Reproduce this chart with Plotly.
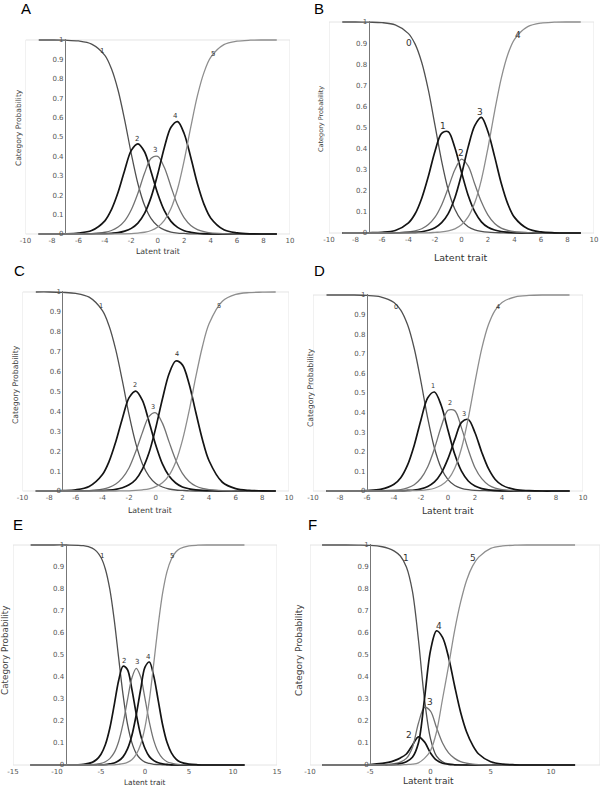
import plotly.graph_objects as go

W, H = 600, 788

# ---- data (category probability vs latent trait) ----
X_GRID = [-9, -8, -7, -6, -5, -4, -3.5, -3, -2.5, -2, -1.5, -1, -0.5, 0,
          0.5, 1, 1.5, 2, 2.5, 3, 3.5, 4, 5, 6, 7, 8, 9]
X_E = [-13, -11, -9, -7, -6, -5.5, -5, -4.5, -4, -3.5, -3, -2.5, -2, -1.5, -1,
       -0.5, 0, 0.5, 1, 1.5, 2, 2.5, 3, 3.5, 4, 5, 6, 7, 9, 11.3]
X_F = [-9, -7, -6, -5, -4, -3.5, -3, -2.5, -2, -1.5, -1, -0.5, 0, 0.5, 1,
       1.5, 2, 2.5, 3, 3.5, 4, 5, 6, 7, 8, 10, 12]

A_CAT1 = [1.000, 1.000, 0.999, 0.995, 0.979, 0.921, 0.852, 0.741, 0.587, 0.413, 0.259, 0.148, 0.079, 0.041,
          0.021, 0.010, 0.005, 0.003, 0.001, 0.001, 0, 0, 0, 0, 0, 0, 0]
A_CAT2 = [0, 0, 0.001, 0.005, 0.018, 0.068, 0.126, 0.215, 0.329, 0.431, 0.465, 0.424, 0.320, 0.207,
          0.120, 0.065, 0.034, 0.017, 0.009, 0.004, 0.002, 0.001, 0, 0, 0, 0, 0]
A_CAT3 = [0, 0, 0, 0.001, 0.002, 0.009, 0.018, 0.036, 0.068, 0.125, 0.210, 0.313, 0.390, 0.400,
          0.343, 0.244, 0.149, 0.083, 0.044, 0.023, 0.012, 0.006, 0.002, 0, 0, 0, 0]
A_CAT4 = [0, 0, 0, 0, 0.001, 0.002, 0.004, 0.007, 0.015, 0.029, 0.056, 0.106, 0.190, 0.309,
          0.446, 0.550, 0.579, 0.517, 0.394, 0.259, 0.153, 0.083, 0.022, 0.006, 0.001, 0, 0]
A_CAT5 = [0, 0, 0, 0, 0, 0, 0, 0.001, 0.001, 0.002, 0.005, 0.009, 0.018, 0.036,
          0.070, 0.131, 0.233, 0.380, 0.552, 0.713, 0.833, 0.910, 0.976, 0.994, 0.999, 1.000, 1.000]

B_CAT0 = [1.000, 1.000, 0.999, 0.997, 0.986, 0.945, 0.895, 0.808, 0.677, 0.510, 0.341, 0.204, 0.113, 0.060,
          0.030, 0.015, 0.008, 0.004, 0.002, 0.001, 0, 0, 0, 0, 0, 0, 0]
B_CAT1 = [0, 0, 0.001, 0.003, 0.012, 0.048, 0.091, 0.165, 0.269, 0.388, 0.472, 0.480, 0.404, 0.288,
          0.179, 0.101, 0.053, 0.027, 0.014, 0.007, 0.004, 0.002, 0, 0, 0, 0, 0]
B_CAT2 = [0, 0, 0, 0, 0.001, 0.005, 0.010, 0.020, 0.040, 0.075, 0.133, 0.214, 0.300, 0.350,
          0.318, 0.232, 0.148, 0.085, 0.045, 0.023, 0.012, 0.006, 0.002, 0, 0, 0, 0]
B_CAT3 = [0, 0, 0, 0, 0, 0.002, 0.003, 0.006, 0.013, 0.025, 0.049, 0.092, 0.167, 0.277,
          0.407, 0.509, 0.548, 0.480, 0.362, 0.236, 0.137, 0.074, 0.020, 0.005, 0.001, 0, 0]
B_CAT4 = [0, 0, 0, 0, 0, 0, 0, 0.001, 0.001, 0.003, 0.005, 0.010, 0.020, 0.039,
          0.076, 0.143, 0.252, 0.404, 0.577, 0.733, 0.847, 0.918, 0.978, 0.995, 0.999, 1.000, 1.000]

C_CAT1 = [1.000, 1.000, 0.998, 0.993, 0.974, 0.906, 0.829, 0.709, 0.552, 0.382, 0.239, 0.136, 0.074, 0.038,
          0.020, 0.010, 0.005, 0.003, 0.001, 0, 0, 0, 0, 0, 0, 0, 0]
C_CAT2 = [0, 0, 0.002, 0.006, 0.023, 0.083, 0.149, 0.248, 0.366, 0.469, 0.502, 0.455, 0.347, 0.231,
          0.136, 0.075, 0.040, 0.020, 0.011, 0.006, 0.003, 0.002, 0, 0, 0, 0, 0]
C_CAT3 = [0, 0, 0, 0.001, 0.002, 0.009, 0.018, 0.035, 0.066, 0.117, 0.198, 0.294, 0.375, 0.393,
          0.341, 0.247, 0.156, 0.089, 0.048, 0.025, 0.013, 0.007, 0.002, 0.001, 0, 0, 0]
C_CAT4 = [0, 0, 0, 0, 0.001, 0.002, 0.004, 0.008, 0.016, 0.031, 0.058, 0.110, 0.193, 0.317,
          0.462, 0.589, 0.653, 0.634, 0.539, 0.397, 0.259, 0.152, 0.044, 0.012, 0.003, 0.001, 0]
C_CAT5 = [0, 0, 0, 0, 0, 0, 0, 0, 0.001, 0.001, 0.003, 0.006, 0.011, 0.022,
          0.042, 0.079, 0.146, 0.254, 0.401, 0.572, 0.725, 0.840, 0.954, 0.988, 0.997, 0.999, 1.000]

D_CAT0 = [1.000, 1.000, 1.000, 0.998, 0.991, 0.962, 0.923, 0.849, 0.727, 0.557, 0.371, 0.218, 0.116, 0.058,
          0.028, 0.014, 0.007, 0.003, 0.002, 0.001, 0, 0, 0, 0, 0, 0, 0]
D_CAT1 = [0, 0, 0, 0.002, 0.008, 0.034, 0.068, 0.132, 0.234, 0.364, 0.476, 0.505, 0.436, 0.310,
          0.187, 0.101, 0.051, 0.025, 0.012, 0.006, 0.003, 0.001, 0, 0, 0, 0, 0]
D_CAT2 = [0, 0, 0, 0, 0.001, 0.004, 0.007, 0.016, 0.032, 0.065, 0.124, 0.217, 0.329, 0.412,
          0.410, 0.322, 0.211, 0.119, 0.063, 0.031, 0.015, 0.007, 0.002, 0, 0, 0, 0]
D_CAT3 = [0, 0, 0, 0, 0, 0.001, 0.001, 0.003, 0.005, 0.011, 0.023, 0.046, 0.091, 0.165,
          0.262, 0.350, 0.365, 0.297, 0.198, 0.114, 0.059, 0.030, 0.007, 0.002, 0, 0, 0]
D_CAT4 = [0, 0, 0, 0, 0, 0, 0, 0.001, 0.002, 0.003, 0.007, 0.014, 0.029, 0.058,
          0.116, 0.218, 0.371, 0.556, 0.726, 0.849, 0.923, 0.962, 0.991, 0.998, 1.000, 1.000, 1.000]

E_CAT1 = [1, 1, 1.000, 0.997, 0.986, 0.971, 0.943, 0.890, 0.799, 0.661, 0.489, 0.321, 0.188, 0.103, 0.053,
          0.027, 0.013, 0.007, 0.003, 0.002, 0.001, 0, 0, 0, 0, 0, 0, 0, 0, 0]
E_CAT2 = [0, 0, 0, 0.003, 0.012, 0.025, 0.049, 0.093, 0.167, 0.272, 0.383, 0.449, 0.434, 0.346, 0.233,
          0.137, 0.075, 0.038, 0.020, 0.010, 0.005, 0.003, 0.001, 0, 0, 0, 0, 0, 0, 0]
E_CAT3 = [0, 0, 0, 0, 0.002, 0.004, 0.007, 0.015, 0.029, 0.056, 0.106, 0.187, 0.294, 0.394, 0.439,
          0.401, 0.302, 0.194, 0.111, 0.059, 0.030, 0.015, 0.008, 0.004, 0.002, 0.001, 0, 0, 0, 0]
E_CAT4 = [0, 0, 0, 0, 0, 0.001, 0.001, 0.002, 0.005, 0.009, 0.019, 0.037, 0.072, 0.133, 0.227,
          0.342, 0.445, 0.468, 0.403, 0.294, 0.183, 0.103, 0.055, 0.028, 0.014, 0.004, 0.001, 0, 0, 0]
E_CAT5 = [0, 0, 0, 0, 0, 0, 0, 0, 0.001, 0.001, 0.003, 0.006, 0.012, 0.024, 0.048,
          0.093, 0.172, 0.297, 0.463, 0.636, 0.781, 0.879, 0.936, 0.968, 0.984, 0.996, 0.999, 1, 1, 1]

F_CAT1 = [1, 1, 0.9995, 0.998, 0.992, 0.985, 0.972, 0.950, 0.900, 0.790, 0.570, 0.300, 0.120, 0.040,
          0.015, 0.005, 0.002, 0.001, 0, 0, 0, 0, 0, 0, 0, 0, 0]
F_CAT2 = [0, 0, 0.0005, 0.002, 0.007, 0.012, 0.020, 0.032, 0.050, 0.090, 0.128, 0.105, 0.055, 0.022,
          0.008, 0.003, 0.001, 0, 0, 0, 0, 0, 0, 0, 0, 0, 0]
F_CAT3 = [0, 0, 0, 0, 0.001, 0.003, 0.006, 0.013, 0.030, 0.080, 0.190, 0.262, 0.245, 0.170,
          0.100, 0.055, 0.030, 0.015, 0.008, 0.004, 0.002, 0, 0, 0, 0, 0, 0]
F_CAT4 = [0, 0, 0, 0, 0, 0, 0.002, 0.006, 0.015, 0.035, 0.100, 0.300, 0.520, 0.610,
          0.580, 0.490, 0.360, 0.240, 0.150, 0.090, 0.050, 0.015, 0.004, 0.001, 0, 0, 0]
F_CAT5 = [0, 0, 0, 0, 0, 0, 0, 0, 0.002, 0.004, 0.010, 0.030, 0.065, 0.150,
          0.300, 0.450, 0.610, 0.740, 0.840, 0.905, 0.945, 0.985, 0.996, 0.999, 1, 1, 1]

Y_TICKS = [0, 0.1, 0.2, 0.3, 0.4, 0.5, 0.6, 0.7, 0.8, 0.9, 1]
Y_TICK_TEXT = ["0", "0.1", "0.2", "0.3", "0.4", "0.5", "0.6", "0.7", "0.8", "0.9", "1"]
CATS_1_5 = ["1", "2", "3", "4", "5"]
CATS_0_4 = ["0", "1", "2", "3", "4"]

# ---- styling / layout per panel (pixel boxes measured on the 600x788 page) ----
CURVE_STYLE = [("#505050", 1.3), ("#141414", 1.7), ("#737373", 1.3), ("#141414", 1.7), ("#8e8e8e", 1.3)]
GRID_LINE = "#e4e4e4"
FONT = "DejaVu Sans"

PANELS = [
    dict(tag="A", x=X_GRID, curves=[A_CAT1, A_CAT2, A_CAT3, A_CAT4, A_CAT5], names=CATS_1_5,
         lab=[(-4.25, 0.945), (-1.54, 0.49), (-0.2, 0.434), (1.34, 0.61), (4.18, 0.928)], labsize=7,
         xr=(-10, 10), xt=list(range(-10, 11, 2)), box=(25.5, 290, 40, 234), yline=-7,
         letter=(26, 8), ytitle=(18, 128, 7.5), xtitle=(158, 252, 7.8)),
    dict(tag="B", x=X_GRID, curves=[B_CAT0, B_CAT1, B_CAT2, B_CAT3, B_CAT4], names=CATS_0_4,
         lab=[(-4.0, 0.899), (-1.37, 0.507), (-0.04, 0.38), (1.39, 0.575), (4.27, 0.938)], labsize=9,
         xr=(-10, 10), xt=list(range(-10, 11, 2)), box=(329, 594, 22, 233), yline=-7,
         letter=(319, 8), ytitle=(321, 119, 6.5), xtitle=(461, 257, 9.5)),
    dict(tag="C", x=X_GRID, curves=[C_CAT1, C_CAT2, C_CAT3, C_CAT4, C_CAT5], names=CATS_1_5,
         lab=[(-4.12, 0.93), (-1.55, 0.531), (-0.18, 0.422), (1.63, 0.69), (4.78, 0.93)], labsize=6.5,
         xr=(-10, 10), xt=list(range(-10, 11, 2)), box=(22.5, 289, 292, 491), yline=-7,
         letter=(19, 270), ytitle=(16, 385, 7.7), xtitle=(150, 510, 7.8)),
    dict(tag="D", x=X_GRID, curves=[D_CAT0, D_CAT1, D_CAT2, D_CAT3, D_CAT4], names=CATS_0_4,
         lab=[(-3.85, 0.939), (-1.14, 0.536), (0.17, 0.449), (1.16, 0.395), (3.68, 0.939)], labsize=6.5,
         xr=(-10, 10), xt=list(range(-10, 11, 2)), box=(313, 583, 295, 491), yline=-6,
         letter=(319, 270), ytitle=(310, 388, 7.7), xtitle=(448, 510, 9.2)),
    dict(tag="E", x=X_E, curves=[E_CAT1, E_CAT2, E_CAT3, E_CAT4, E_CAT5], names=CATS_1_5,
         lab=[(-4.92, 0.952), (-2.39, 0.474), (-0.95, 0.467), (0.38, 0.492), (3.1, 0.952)], labsize=7,
         xr=(-15, 15), xt=list(range(-15, 16, 5)), box=(13, 277, 545, 765), yline=-9,
         letter=(18, 524), ytitle=(5, 651, 8.8), xtitle=(145, 782, 7.4)),
    dict(tag="F", x=X_F, curves=[F_CAT1, F_CAT2, F_CAT3, F_CAT4, F_CAT5], names=CATS_1_5,
         lab=[(-2.05, 0.942), (-1.77, 0.136), (-0.06, 0.288), (0.72, 0.633), (3.57, 0.939)], labsize=9,
         xr=(-10, 14.07), xt=[-10, -5, 0, 5, 10], box=(310, 600, 545, 765), yline=-5,
         letter=(312, 524), ytitle=(299, 650, 9), xtitle=(428, 781, 9.0)),
]

PAD = 0.006  # a little headroom so the lines at 0 and 1 are not clipped

fig = go.Figure()
annotations = []
shapes = []
layout = {}

for i, p in enumerate(PANELS):
    n = "" if i == 0 else str(i + 1)
    xa, ya = "x" + n, "y" + n
    left, right, top, bottom = p["box"]
    x0, x1 = p["xr"]
    span = bottom - top
    dom_top = top - PAD * span
    dom_bot = bottom + PAD * span

    for ys, (col, wid) in zip(p["curves"], CURVE_STYLE):
        fig.add_trace(go.Scatter(
            x=p["x"], y=ys, xaxis=xa, yaxis=ya, mode="lines",
            line=dict(color=col, width=wid, shape="spline", smoothing=0.9),
            hoverinfo="skip", showlegend=False,
        ))

    ypos = (left + (p["yline"] - x0) / (x1 - x0) * (right - left)) / W
    layout["xaxis" + n] = dict(
        domain=[left / W, min(right / W, 1.0)], range=[x0, x1], anchor=ya, automargin=False,
        showgrid=False, zeroline=False, showline=False, ticks="",
        tickvals=p["xt"], ticktext=[str(v) for v in p["xt"]],
        tickfont=dict(family=FONT, size=7, color="#555555"),
    )
    layout["yaxis" + n] = dict(
        domain=[1 - dom_bot / H, 1 - dom_top / H], range=[-PAD, 1 + PAD],
        anchor="free", position=ypos, side="left", automargin=False,
        showgrid=False, zeroline=False, showline=True, linecolor="#777777", linewidth=1.4,
        ticks="", tickvals=Y_TICKS, ticktext=Y_TICK_TEXT,
        tickfont=dict(family=FONT, size=7, color="#555555"),
    )

    # light frame round the plotting area
    shapes.append(dict(type="rect", xref=xa, yref=ya, x0=x0, x1=x1, y0=0, y1=1,
                       line=dict(color=GRID_LINE, width=1), layer="below"))

    for name, (lx, ly) in zip(p["names"], p["lab"]):
        annotations.append(dict(x=lx, y=ly, xref=xa, yref=ya, text=name, showarrow=False,
                                font=dict(family=FONT, size=p["labsize"], color="#333333")))

    lx, ly = p["letter"]
    annotations.append(dict(x=lx / W, y=1 - ly / H, xref="paper", yref="paper", text=p["tag"],
                            showarrow=False, xanchor="center", yanchor="middle",
                            font=dict(family="Liberation Sans", size=15, color="#000000")))
    tx, ty, ts = p["ytitle"]
    annotations.append(dict(x=tx / W, y=1 - ty / H, xref="paper", yref="paper",
                            text="Category Probability", textangle=-90, showarrow=False,
                            xanchor="center", yanchor="middle",
                            font=dict(family=FONT, size=ts, color="#444444")))
    tx, ty, ts = p["xtitle"]
    annotations.append(dict(x=tx / W, y=1 - ty / H, xref="paper", yref="paper",
                            text="Latent trait", showarrow=False, xanchor="center", yanchor="middle",
                            font=dict(family=FONT, size=ts, color="#333333")))

fig.update_layout(
    width=W, height=H, autosize=False,
    template="none",
    margin=dict(l=0, r=0, t=0, b=0, pad=0),
    paper_bgcolor="white", plot_bgcolor="white",
    showlegend=False,
    annotations=annotations, shapes=shapes,
    **layout,
)

# the page body has a default 8px margin; drop it so the figure sits at the window's corner
fig.write_html("out.html", config={"displayModeBar": False},
               post_script="document.body.style.margin='0';")
